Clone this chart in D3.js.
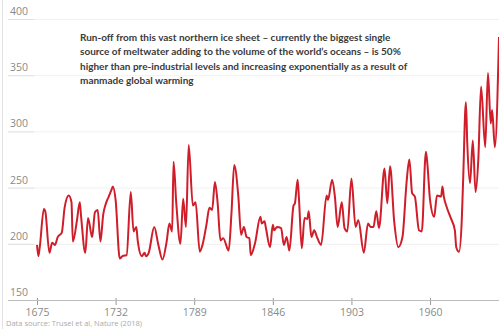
<!DOCTYPE html>
<html>
<head>
<meta charset="utf-8">
<script src="https://cdn.jsdelivr.net/npm/d3@7/dist/d3.min.js"></script>
<style>
  html, body { margin: 0; padding: 0; background: #fff; overflow: hidden; }
  svg { display: block; }
</style>
</head>
<body>
<svg id="chart" width="499" height="329"></svg>
<script>
const years = [1675,1676,1677,1680,1681,1684,1686,1688,1690,1693,1695,1698,1700,1701,1704,1706,1707,1710,1712,1715,1717,1719,1721,1723,1725,1727,1729,1730,1732,1735,1737,1740,1743,1745,1747,1748,1751,1753,1754,1756,1760,1763,1766,1769,1771,1773,1774,1776,1779,1781,1783,1785,1788,1790,1793,1795,1798,1800,1802,1804,1806,1808,1810,1814,1816,1818,1821,1823,1825,1827,1829,1830,1833,1837,1838,1840,1841,1844,1846,1847,1849,1852,1854,1856,1858,1861,1862,1864,1865,1867,1869,1871,1872,1874,1876,1878,1881,1885,1886,1889,1891,1893,1896,1898,1900,1903,1906,1908,1912,1915,1917,1919,1921,1923,1927,1929,1931,1934,1937,1940,1943,1945,1947,1949,1952,1954,1957,1958,1960,1963,1965,1968,1969,1970,1972,1975,1978,1979,1981,1983,1984,1986,1987,1989,1991,1993,1995,1997,2000,2002,2004,2005,2007,2010];
const runoff = [199,189,197,231,229,192,201,199,206,210,232,243,237,202,221,237,224,192,223,206,228,230,202,226,236,242,248,251,239,187,189,190,246,211,215,203,189,192,189,192,215,199,186,202,218,211,273,236,200,240,215,288,234,237,193,199,218,232,230,255,236,203,205,194,227,270,242,208,215,206,205,190,200,224,218,220,214,197,217,212,215,214,199,206,194,234,236,257,239,196,223,222,229,206,212,206,199,243,239,257,242,215,237,214,211,258,215,221,192,218,215,215,229,214,267,236,269,220,197,206,255,275,245,242,212,211,282,272,239,224,243,242,251,242,233,223,212,197,193,221,257,326,289,254,292,246,275,340,286,352,307,319,286,384];
const yTicks = [150, 200, 250, 300, 350, 400];
const xTicks = [1675, 1732, 1789, 1846, 1903, 1960];
const noteLines = [
  "Run-off from this vast northern ice sheet \u2013 currently the biggest single",
  "source of meltwater adding to the volume of the world\u2019s oceans \u2013 is 50%",
  "higher than pre-industrial levels and increasing exponentially as a result of",
  "manmade global warming"
];
const sourceText = "Data source: Trusel et al, Nature (2018)";

const svg = d3.select("#chart");
const x = d3.scaleLinear().domain([1675, 2010]).range([37, 499]);
const y = d3.scaleLinear().domain([150, 400]).range([300, 19]);

// left border
svg.append("line").attr("x1", 2.5).attr("x2", 2.5).attr("y1", 0).attr("y2", 329)
  .attr("stroke", "#e2e2e2").attr("stroke-width", 1);

// grid
const grid = svg.append("g");
yTicks.filter(d => d > 150).forEach(t => {
  grid.append("line").attr("x1", 8).attr("x2", 499)
    .attr("y1", y(t) + 0.5).attr("y2", y(t) + 0.5)
    .attr("stroke", "#f1f1f1").attr("stroke-width", 1);
  grid.append("line").attr("x1", 8).attr("x2", 34)
    .attr("y1", y(t) + 0.5).attr("y2", y(t) + 0.5)
    .attr("stroke", "#e0e0e0").attr("stroke-width", 1);
});

// y labels
svg.append("g").selectAll("text").data(yTicks).join("text")
  .attr("x", 10).attr("y", d => y(d) - 4)
  .attr("font-family", "'Open Sans', sans-serif").attr("font-size", 10.5)
  .attr("fill", "#8a8a8a").text(d => d);

// x axis
const xAxis = d3.axisBottom(x).tickValues(xTicks).tickFormat(d3.format("d"))
  .tickSize(5).tickPadding(4);
const gx = svg.append("g").attr("transform", "translate(0,300)").call(xAxis);
gx.select(".domain").remove();
gx.append("line").attr("x1", 8).attr("x2", 499).attr("y1", 0.5).attr("y2", 0.5)
  .attr("stroke", "#bdbdbd");
gx.selectAll(".tick line").attr("stroke", "#999").attr("y1", -2);
gx.selectAll(".tick text").attr("font-family", "'Open Sans', sans-serif")
  .attr("font-size", 10.5).attr("fill", "#8a8a8a");

// line
const data = years.map((yr, i) => ({ yr, v: runoff[i] }));
const line = d3.line().x(d => x(d.yr)).y(d => y(d.v)).curve(d3.curveMonotoneX);
svg.append("path").datum(data).attr("d", line)
  .attr("fill", "none").attr("stroke", "#cf1d2a").attr("stroke-width", 2)
  .attr("stroke-linejoin", "round");

// note
svg.append("g").selectAll("text").data(noteLines).join("text")
  .attr("x", 80).attr("y", (d, i) => 41 + i * 14.3)
  .attr("font-family", "Lato, sans-serif").attr("font-size", 10)
  .attr("font-weight", "bold").attr("fill", "#3a3a3a").text(d => d);

// source
svg.append("text").attr("x", 6).attr("y", 326)
  .attr("font-family", "'Open Sans', sans-serif").attr("font-size", 7.5)
  .attr("fill", "#aaa").text(sourceText);
</script>
</body>
</html>
